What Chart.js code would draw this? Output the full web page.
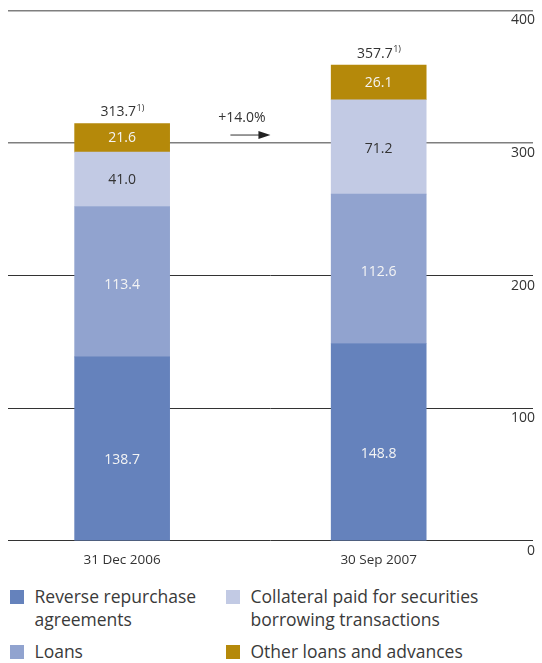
<!DOCTYPE html>
<html><head><meta charset="utf-8">
<script src="https://cdn.jsdelivr.net/npm/chart.js@4.4.1/dist/chart.umd.min.js"></script>
<style>
body{margin:0;background:#fff;font-family:'Open Sans',sans-serif;}
#wrap{position:relative;width:542px;height:663px;overflow:hidden;}
#c{position:absolute;left:0;top:0;}
.leg{position:absolute;font-size:17.5px;line-height:23px;color:#3a3a3a;}
.leg .sw{position:absolute;left:0;top:5px;width:14px;height:14px;}
.leg .tx{position:absolute;left:24.5px;top:0;}
</style></head><body>
<div id="wrap"><canvas id="c" width="542" height="571"></canvas><div id="legend"></div></div>
<script>
const categories = ['31 Dec 2006', '30 Sep 2007'];
const seriesNames = ['Reverse repurchase agreements', 'Loans', 'Collateral paid for securities borrowing transactions', 'Other loans and advances'];
const reverseRepo = [138.7, 148.8];
const loans = [113.4, 112.6];
const collateral = [41.0, 71.2];
const otherLoans = [21.6, 26.1];
const totals = [313.7, 357.7];
const totalNote = '1)';
const changeLabel = '+14.0%';
const yTicks = [0, 100, 200, 300, 400];

const colors = ['#6582bc', '#91a3cf', '#c2cae4', '#b5890a'];
const labelColors = ['#f4f4f4', '#f4f4f4', '#333333', '#f4f4f4'];
const seriesValues = [reverseRepo, loans, collateral, otherLoans];

const FONT = '"Open Sans"';

const annot = {
  id: 'annot',
  afterDatasetsDraw(chart) {
    const ctx = chart.ctx, xs = chart.scales.x, ys = chart.scales.y;
    ctx.save();
    ctx.textBaseline = 'middle';
    ctx.textAlign = 'center';
    ctx.font = '14px ' + FONT;
    chart.data.datasets.forEach((ds, di) => {
      const meta = chart.getDatasetMeta(di);
      meta.data.forEach((bar, i) => {
        const top = Math.min(bar.y, bar.base), bot = Math.max(bar.y, bar.base);
        const f = di === 0 ? 0.56 : 0.52;
        ctx.fillStyle = labelColors[di];
        ctx.fillText(ds.data[i].y.toFixed(1), bar.x, top + (bot - top) * f);
      });
    });
    const lastMeta = chart.getDatasetMeta(chart.data.datasets.length - 1);
    totals.forEach((t, i) => {
      const bar = lastMeta.data[i];
      const main = t.toFixed(1);
      ctx.font = '14px ' + FONT; const w1 = ctx.measureText(main).width;
      ctx.font = '9px ' + FONT; const w2 = ctx.measureText(totalNote).width;
      const x0 = bar.x - (w1 + w2) / 2, y = bar.y - 11.5;
      ctx.textAlign = 'left'; ctx.fillStyle = '#333';
      ctx.font = '14px ' + FONT; ctx.fillText(main, x0, y);
      ctx.font = '9px ' + FONT; ctx.fillText(totalNote, x0 + w1 + 0.5, y - 4);
    });
    const mid = (xs.getPixelForValue(1) + xs.getPixelForValue(2)) / 2;
    const ay = ys.getPixelForValue(306);
    ctx.strokeStyle = '#333'; ctx.lineWidth = 1;
    ctx.beginPath(); ctx.moveTo(mid - 20, ay); ctx.lineTo(mid + 9, ay); ctx.stroke();
    ctx.fillStyle = '#222';
    ctx.beginPath(); ctx.moveTo(mid + 20, ay); ctx.lineTo(mid + 8, ay - 4); ctx.lineTo(mid + 8, ay + 4); ctx.closePath(); ctx.fill();
    ctx.font = '14px ' + FONT; ctx.textAlign = 'center'; ctx.fillStyle = '#333';
    ctx.fillText(changeLabel, mid - 8.5, ys.getPixelForValue(319));
    ctx.restore();
  }
};

const chart = new Chart(document.getElementById('c'), {
  type: 'bar',
  data: {
    datasets: seriesNames.map((name, i) => ({
      label: name,
      data: seriesValues[i].map((v, j) => ({x: j + 1, y: v})),
      backgroundColor: colors[i],
      borderWidth: 0,
      barThickness: 95
    }))
  },
  options: {
    responsive: false,
    animation: false,
    layout: {padding: {left: 8, right: 5, top: 0, bottom: 0}},
    plugins: {legend: {display: false}, tooltip: {enabled: false}},
    scales: {
      x: {
        type: 'linear', stacked: true, offset: false, min: 0.5551, max: 2.6015,
        afterBuildTicks: s => { s.ticks = categories.map((c, i) => ({value: i + 1})); },
        ticks: {callback: v => categories[v - 1], font: {family: 'Open Sans', size: 13.5}, color: '#333', autoSkip: false, maxRotation: 0, padding: 3},
        grid: {display: false},
        border: {display: false}
      },
      y: {
        stacked: true, position: 'right', min: 0, max: 400,
        afterBuildTicks: s => { s.ticks = yTicks.map(v => ({value: v})); },
        ticks: {mirror: true, labelOffset: 10, padding: 2, font: {family: 'Open Sans', size: 14}, color: '#333'},
        grid: {drawTicks: false, color: c => (c.tick && c.tick.value >= 300) ? '#7f7f7f' : '#333', lineWidth: c => (c.tick && c.tick.value >= 300) ? 1.5 : 1},
        border: {display: false}
      }
    }
  },
  plugins: [annot]
});

// HTML legend, two columns
const legend = document.getElementById('legend');
const colLeft = [10, 226], colWidth = [225, 300], rowTop = [584.5, 639.5];
chart.data.datasets.forEach((ds, i) => {
  const col = Math.floor(i / 2), row = i % 2;
  const item = document.createElement('div');
  item.className = 'leg';
  item.style.left = colLeft[col] + 'px';
  item.style.top = rowTop[row] + 'px';
  item.style.width = colWidth[col] + 'px';
  item.innerHTML = '<div class="sw" style="background:' + ds.backgroundColor + '"></div><div class="tx" style="width:' + (colWidth[col] - 25) + 'px">' + ds.label + '</div>';
  legend.appendChild(item);
});
</script>
</body></html>
